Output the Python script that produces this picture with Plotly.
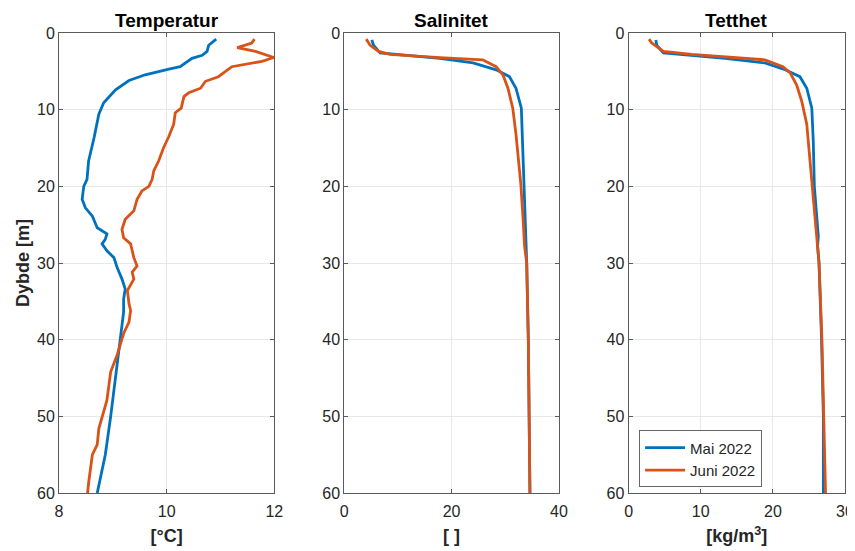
import plotly.graph_objects as go
from plotly.subplots import make_subplots

# ---- data ----
temp_mai_depth = [0.8, 1.6, 2.4, 2.9, 3.3, 4.4, 4.7, 5.45, 6.2, 7.4, 9.1, 10.6, 13.7, 16.7, 19.1, 20.0,
                  21.7, 22.8, 23.9, 25.4, 26.2, 26.9, 27.5, 28.4, 29.3, 30.6, 32.1, 33.4, 34.7, 36.4,
                  38.1, 39.9, 45.1, 50.0, 55.0, 60.0]
temp_mai = [10.92, 10.78, 10.75, 10.66, 10.47, 10.25, 10.04, 9.60, 9.30, 9.05, 8.83, 8.74, 8.65, 8.55,
            8.52, 8.46, 8.43, 8.49, 8.62, 8.71, 8.89, 8.86, 8.80, 8.89, 9.02, 9.08, 9.17, 9.23, 9.20,
            9.20, 9.17, 9.14, 9.05, 8.96, 8.86, 8.71]

temp_juni_depth = [0.8, 1.3, 1.9, 2.4, 3.2, 3.7, 4.4, 5.0, 5.7, 6.3, 7.2, 7.8, 8.3, 9.8, 10.4, 11.9,
                   13.5, 15.0, 16.7, 18.0, 19.1, 20.0, 20.6, 21.7, 23.2, 24.3, 25.6, 26.7, 27.5, 29.3,
                   30.4, 31.2, 32.1, 33.6, 35.3, 36.2, 37.7, 39.2, 42.0, 44.2, 47.9, 49.4, 51.6, 53.7,
                   55.0, 58.7, 60.0]
temp_juni = [11.63, 11.58, 11.31, 11.65, 11.99, 11.77, 11.21, 11.09, 10.96, 10.72, 10.63, 10.41, 10.32,
             10.27, 10.16, 10.13, 10.04, 9.94, 9.85, 9.76, 9.73, 9.67, 9.54, 9.45, 9.39, 9.23, 9.17,
             9.20, 9.33, 9.39, 9.45, 9.36, 9.39, 9.27, 9.30, 9.33, 9.30, 9.20, 9.08, 8.96, 8.89, 8.83,
             8.74, 8.71, 8.62, 8.55, 8.53]

sal_mai_depth = [0.9, 1.6, 2.6, 2.9, 3.3, 3.9, 4.8, 5.7, 7.2, 9.8, 14.1, 19.7, 25.0, 27.8, 30.0, 40.0, 50.0, 60.0]
sal_mai = [5.13, 5.44, 6.68, 11.6, 17.8, 24.0, 28.3, 30.8, 32.0, 33.0, 33.2, 33.4, 33.7, 33.9, 34.0, 34.3, 34.45, 34.6]

sal_juni_depth = [0.8, 1.6, 2.4, 2.8, 3.2, 3.5, 4.4, 5.5, 7.2, 9.8, 13.2, 17.1, 19.7, 24.0, 27.8, 30.0, 40.0, 50.0, 60.0]
sal_juni = [4.08, 4.82, 6.4, 8.5, 17.8, 25.8, 28.3, 29.6, 30.5, 31.4, 32.0, 32.6, 32.9, 33.3, 33.6, 34.0, 34.3, 34.45, 34.6]

dens_mai_depth = [0.9, 1.6, 2.6, 2.9, 3.3, 3.9, 4.8, 5.7, 7.2, 9.8, 14.1, 20.0, 26.5, 27.8, 30.0, 40.0, 50.0, 60.0]
dens_mai = [3.77, 3.9, 4.82, 8.75, 13.4, 18.9, 21.7, 23.75, 24.7, 25.4, 25.6, 25.75, 26.3, 26.2, 26.4, 26.75, 27.0, 27.0]

dens_juni_depth = [0.8, 1.3, 1.6, 2.4, 2.8, 3.1, 3.5, 4.4, 5.2, 6.8, 8.9, 11.9, 16.3, 20.0, 27.8, 30.0, 40.0, 50.0, 60.0]
dens_juni = [2.84, 3.2, 3.67, 4.82, 8.75, 13.4, 18.9, 21.4, 22.4, 23.3, 24.0, 24.7, 25.1, 25.4, 26.2, 26.4, 26.8, 27.05, 27.3]

panel_titles = ["Temperatur", "Salinitet", "Tetthet"]
x_titles = ["[°C]", "[ ]", "[kg/m<sup>3</sup>]"]
y_title = "Dybde [m]"
series_names = ["Mai 2022", "Juni 2022"]
x_ranges = [[8, 12], [0, 40], [0, 30]]
x_ticks = [[8, 10, 12], [0, 20, 40], [0, 10, 20, 30]]
y_ticks = [0, 10, 20, 30, 40, 50, 60]

BLUE = "#0072BD"
ORANGE = "#D95319"
AXC = "#5a5a5a"
TXT = "#262626"
FONT = "Liberation Sans, Arial, sans-serif"
TICK_SIZE = 16
LABEL_SIZE = 18
TITLE_SIZE = 19

fig = make_subplots(rows=1, cols=3, horizontal_spacing=0.0)

panels = [
    (temp_mai, temp_mai_depth, temp_juni, temp_juni_depth),
    (sal_mai, sal_mai_depth, sal_juni, sal_juni_depth),
    (dens_mai, dens_mai_depth, dens_juni, dens_juni_depth),
]
for i, (xm, dm, xj, dj) in enumerate(panels):
    show = (i == 2)
    fig.add_trace(go.Scatter(x=xm, y=dm, mode="lines", name=series_names[0],
                             line=dict(color=BLUE, width=2.8), showlegend=show), row=1, col=i + 1)
    fig.add_trace(go.Scatter(x=xj, y=dj, mode="lines", name=series_names[1],
                             line=dict(color=ORANGE, width=2.8), showlegend=show), row=1, col=i + 1)

domains = [[0.0, 0.274], [0.363, 0.636], [0.7247, 1.0]]
for i in range(3):
    xa = "xaxis" if i == 0 else f"xaxis{i+1}"
    ya = "yaxis" if i == 0 else f"yaxis{i+1}"
    fig.layout[xa].update(
        domain=domains[i], range=x_ranges[i], tickvals=x_ticks[i], automargin=False,
        showgrid=True, gridcolor="#e8e8e8", gridwidth=1, zeroline=False,
        showline=True, linecolor=AXC, linewidth=1, mirror="ticks",
        ticks="inside", ticklen=4, tickcolor=AXC, ticklabelstandoff=4,
        tickfont=dict(size=TICK_SIZE, color=TXT, family=FONT),
        title=dict(text=f"<b>{x_titles[i]}</b>", font=dict(size=LABEL_SIZE, color=TXT, family=FONT), standoff=10),
    )
    fig.layout[ya].update(
        range=[60, 0], tickvals=y_ticks, automargin=False,
        showgrid=True, gridcolor="#e8e8e8", gridwidth=1, zeroline=False,
        showline=True, linecolor=AXC, linewidth=1, mirror="ticks",
        ticks="inside", ticklen=4, tickcolor=AXC,
        tickfont=dict(size=TICK_SIZE, color=TXT, family=FONT),
    )
    xmid = (domains[i][0] + domains[i][1]) / 2
    fig.add_annotation(text=f"<b>{panel_titles[i]}</b>", x=xmid, y=1.0, xref="paper", yref="paper",
                       xanchor="center", yanchor="bottom", yshift=0, showarrow=False,
                       font=dict(size=TITLE_SIZE, color="#000000", family=FONT))

fig.layout.yaxis.title = dict(text=f"<b>{y_title}</b>", font=dict(size=LABEL_SIZE, color=TXT, family=FONT), standoff=2)

# the page body has an 8px margin: compensate so plot areas land where the reference has them
fig.update_layout(
    width=847, height=543,
    margin=dict(l=50.5, r=10, t=25, b=58),
    paper_bgcolor="white", plot_bgcolor="white",
    font=dict(family=FONT, color=TXT),
    legend=dict(x=0.738, y=0.074, xanchor="left", yanchor="middle",
                bgcolor="white", bordercolor="#666666", borderwidth=1,
                font=dict(size=15, color=TXT, family=FONT),
                tracegroupgap=0, itemwidth=40),
)

fig.write_html("out.html")
